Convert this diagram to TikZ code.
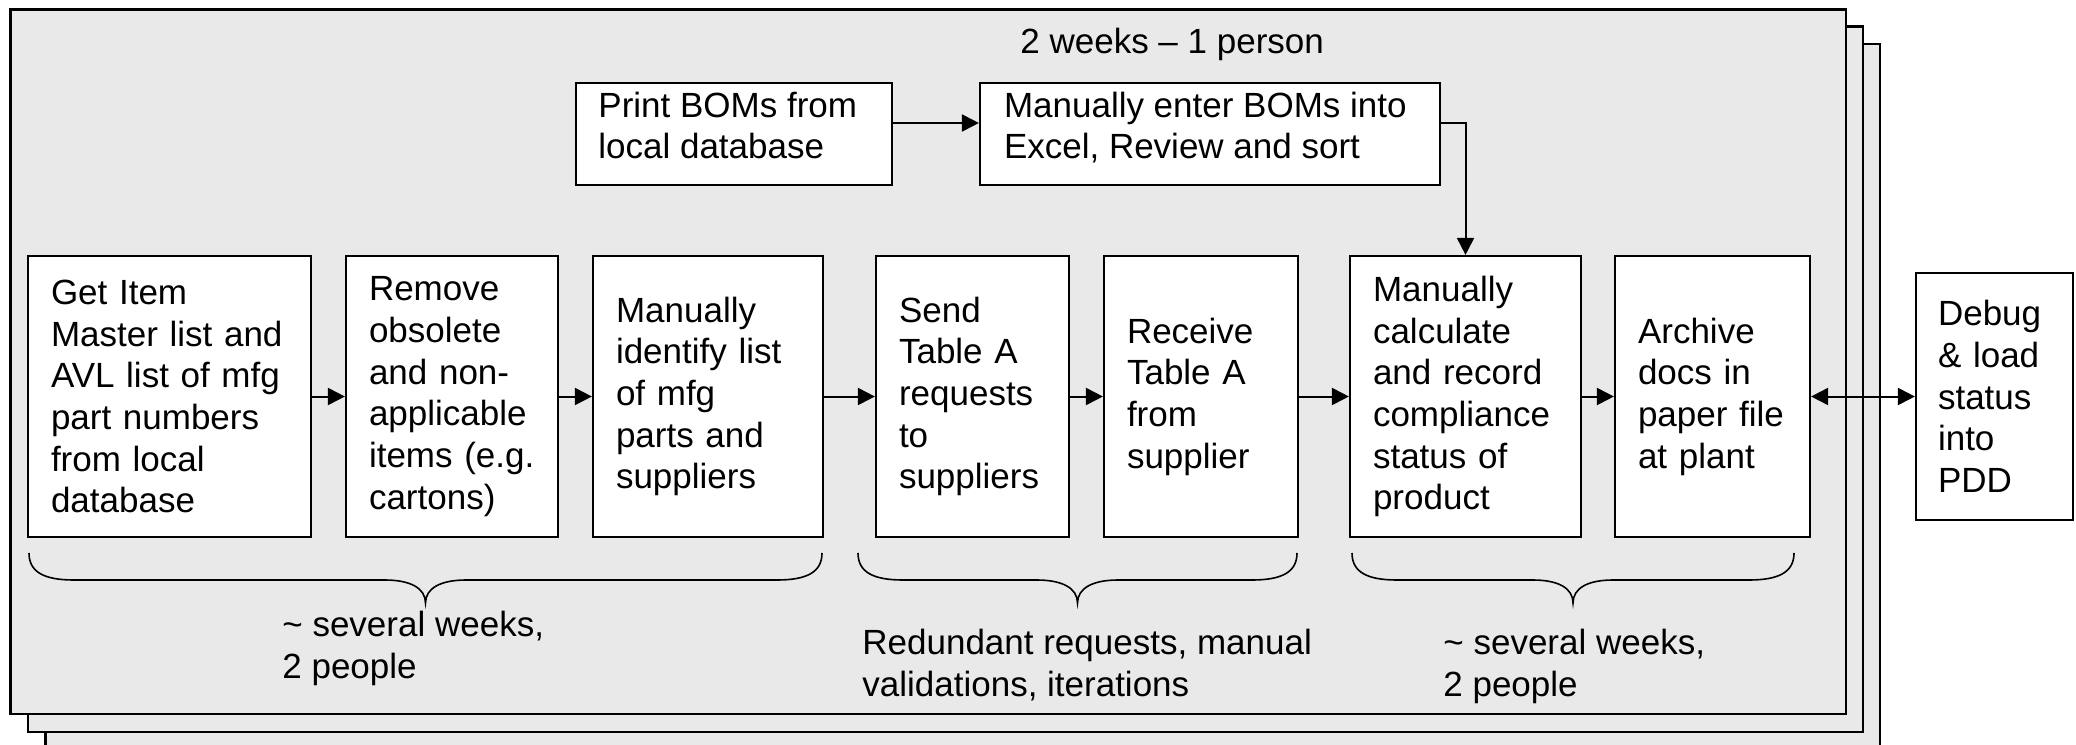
\documentclass[tikz,border=0pt]{standalone}
\usepackage{fontspec}
\setmainfont{Liberation Sans}
\usetikzlibrary{arrows.meta}
\definecolor{framegray}{RGB}{233,233,233}
\begin{document}
\begin{tikzpicture}[x=0.5pt,y=-0.5pt,
  font=\fontsize{17.5}{20.85}\selectfont,
  frame/.style={draw=black, line width=1.2pt, fill=framegray},
  box/.style={draw=black, line width=1.1pt, fill=white, align=left, inner xsep=11.5pt, inner ysep=0pt, minimum height=140.5pt},
  topbox/.style={draw=black, line width=1.1pt, fill=white, inner sep=0pt, minimum height=51pt},
  txt/.style={inner sep=0pt, align=left, anchor=north west},
  arr/.style={line width=1pt, -{Triangle[length=8.5pt,width=8.5pt]}},
  darr/.style={line width=1pt, {Triangle[length=8.5pt,width=8.5pt]}-{Triangle[length=8.5pt,width=8.5pt]}},
  brc/.style={line width=0.8pt}]
\useasboundingbox (0,0) rectangle (2076,744);
\clip (0,0) rectangle (2076,744);
% stacked frames
\draw[frame] (45.5,44) rectangle (1880,751);
\draw[frame] (28,26.6) rectangle (1863,732);
\draw[frame] (10.6,9.3) rectangle (1846,714);
% top boxes
\node[topbox, minimum width=158pt] (print) at (734,134) {};
\node[txt] (printtxt) at (598,91.5) {Print BOMs from\\local database};
\node[topbox, minimum width=230pt] (manual) at (1210,134) {};
\node[txt] (manualtxt) at (1003.6,91.5) {Manually enter BOMs into\\Excel, Review and sort};
\node[inner sep=0pt, anchor=base west] (twoweeks) at (1020,54) {2 weeks -- 1 person};
% main row
\node[box, text width=118.5pt] (get) at (169.5,396.5) {Get Item\\Master list and\\AVL list of mfg\\part numbers\\from local\\database};
\node[box, text width=83pt] (remove) at (452,396.5) {Remove\\obsolete\\and non-\\applicable\\items (e.g.\\cartons)};
\node[box, text width=92pt] (ident) at (708,396.5) {Manually\\identify list\\of mfg\\parts and\\suppliers};
\node[box, text width=73.5pt] (send) at (972.5,396.5) {Send\\Table A\\requests\\to\\suppliers};
\node[box, text width=74pt] (recv) at (1201,396.5) {Receive\\Table A\\from\\supplier};
\node[box, text width=92.5pt] (calc) at (1465.5,396.5) {Manually\\calculate\\and record\\compliance\\status of\\product};
\node[box, text width=74.5pt] (arch) at (1712.5,396.5) {Archive\\docs in\\paper file\\at plant};
\node[box, text width=56.5pt, minimum height=123.5pt, inner xsep=11pt] (debug) at (1994.5,396.5) {Debug\\\& load\\status\\into\\PDD};
% connectors
\draw[arr] ([yshift=5.5pt]print.east) -- ([yshift=5.5pt]manual.west);
\draw[arr] ([yshift=5.5pt]manual.east) -| (calc.north);
\draw[arr] (get) -- (remove);
\draw[arr] (remove) -- (ident);
\draw[arr] (ident) -- (send);
\draw[arr] (send) -- (recv);
\draw[arr] (recv) -- (calc);
\draw[arr] (calc) -- (arch);
\draw[darr] (arch) -- (debug);
% braces
\draw[brc] (29,553) .. controls (29,572) and (44,580) .. (74,580) -- (385,580)
  .. controls (410,580) and (425.5,588) .. (425.5,603)
  .. controls (425.5,588) and (441,580) .. (466,580) -- (777,580)
  .. controls (807,580) and (822,572) .. (822,553);
\draw[brc] (858,553) .. controls (858,572) and (873,580) .. (903,580) -- (1037,580)
  .. controls (1062,580) and (1077.5,588) .. (1077.5,603)
  .. controls (1077.5,588) and (1093,580) .. (1118,580) -- (1252,580)
  .. controls (1282,580) and (1297,572) .. (1297,553);
\draw[brc] (1352,553) .. controls (1352,572) and (1367,580) .. (1397,580) -- (1533,580)
  .. controls (1558,580) and (1573,588) .. (1573,603)
  .. controls (1573,588) and (1588,580) .. (1613,580) -- (1749,580)
  .. controls (1779,580) and (1794,572) .. (1794,553);
% brace labels
\node[txt] (lab1) at (282,611) {\textasciitilde{} several weeks,\\2 people};
\node[txt] (lab2) at (862,629) {Redundant requests, manual\\validations, iterations};
\node[txt] (lab3) at (1443,629) {\textasciitilde{} several weeks,\\2 people};
\end{tikzpicture}
\end{document}
